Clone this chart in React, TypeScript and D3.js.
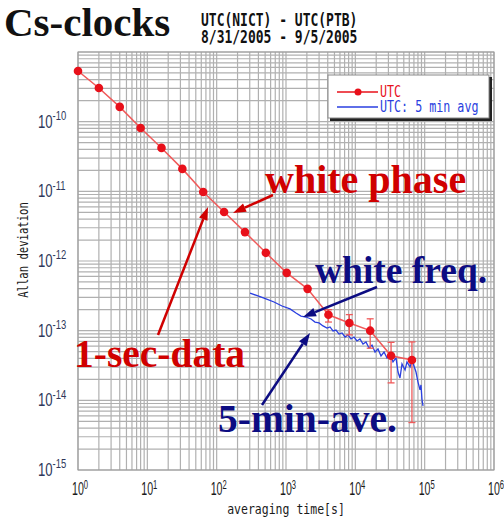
import React from "react";
import * as d3 from "d3";

// 1-sec data (red), tau in seconds
const utcTau = [1, 2, 4, 8, 16, 32, 64, 128, 256, 512, 1024, 2048, 4096, 8192, 16384, 32768, 65536];
const utcSigma = [
  5.33e-10, 3.04e-10, 1.63e-10, 8.1e-11, 4.2e-11, 2.1e-11, 9.8e-12, 5.06e-12, 2.6e-12,
  1.31e-12, 6.76e-13, 3.98e-13, 1.69e-13, 1.29e-13, 1.0e-13, 4.37e-14, 3.8e-14,
];
const utcErrLo = [null, null, null, null, null, null, null, null, null, null, null, null, 1.33e-13, 8.7e-14, 5.6e-14, 1.78e-14, 4.8e-15];
const utcErrHi = [null, null, null, null, null, null, null, null, null, null, null, null, 2.0e-13, 1.7e-13, 1.48e-13, 6.8e-14, 6.9e-14];

// 5-min averaged data (blue)
const avgTau = [
  303, 394, 515, 671, 876, 1142, 1393, 1645, 1945, 2296, 2620, 2993, 3418, 3905, 4315, 4766,
  5265, 5815, 6425, 7096, 7838, 8663, 9570, 10570, 11670, 12900, 14250, 15740, 17400, 19230,
  21230, 23450, 25940, 28640, 31620, 34930, 38620, 41300, 44060, 47100, 52120, 55590, 61500,
  65770, 70150, 75000, 80170, 85700, 88500, 91600, 94700,
];
const avgSigma = [
  3.47e-13, 3.15e-13, 2.85e-13, 2.58e-13, 2.26e-13, 2.05e-13, 1.79e-13, 1.62e-13, 1.57e-13,
  1.47e-13, 1.33e-13, 1.29e-13, 1.17e-13, 1.09e-13, 1.13e-13, 9.9e-14, 1.02e-13, 8.95e-14,
  9.27e-14, 8.11e-14, 8.67e-14, 7.6e-14, 8.11e-14, 7.11e-14, 7.6e-14, 6.44e-14, 6.89e-14,
  5.65e-14, 6.22e-14, 4.94e-14, 5.46e-14, 4.34e-14, 4.94e-14, 4.06e-14, 4.64e-14, 3.55e-14,
  4.06e-14, 2.55e-14, 2.09e-14, 3.33e-14, 2.73e-14, 3.55e-14, 3.01e-14, 3.67e-14, 3.11e-14,
  2.55e-14, 1.83e-14, 1.41e-14, 1.66e-14, 1.01e-14, 8.3e-15,
];

const xExponents = [0, 1, 2, 3, 4, 5, 6];
const yExponents = [-10, -11, -12, -13, -14, -15];

const W = 504;
const H = 520;
const RED = "#e8101a";
const RED_LINE = "#f05a5a";
const BLUE = "#2a3fe0";
const NAVY = "#0c0c82";
const DARK_RED = "#d00000";
const MONO = "'DejaVu Sans Mono', monospace";
const SANS = "'Liberation Sans', Arial, sans-serif";
const SERIF = "'Liberation Serif', 'Times New Roman', serif";

const x = d3.scaleLog().domain([1, 1e6]).range([78, 494]);
const y = d3.scaleLog().domain([1e-15, 1e-9]).range([470, 52]);

const gridX: number[] = [];
for (let d = 0; d < 6; d++) for (let k = 1; k < 10; k++) gridX.push(k * Math.pow(10, d));
gridX.push(1e6);
const gridY: number[] = [];
for (let d = -15; d < -9; d++) for (let k = 1; k < 10; k++) gridY.push(k * Math.pow(10, d));
gridY.push(1e-9);

const arrows = [
  { x1: 273, y1: 195, x2: 233, y2: 213, color: DARK_RED },
  { x1: 158, y1: 335, x2: 208, y2: 207, color: DARK_RED },
  { x1: 377, y1: 287, x2: 303, y2: 317, color: NAVY },
  { x1: 262, y1: 405, x2: 310, y2: 333, color: NAVY },
];

function Arrow({ x1, y1, x2, y2, color }) {
  const a = Math.atan2(y2 - y1, x2 - x1);
  const len = 13;
  const hw = 4.5;
  const bx = x2 - len * Math.cos(a);
  const by = y2 - len * Math.sin(a);
  const px = -Math.sin(a) * hw;
  const py = Math.cos(a) * hw;
  return (
    <g>
      <line x1={x1} y1={y1} x2={bx} y2={by} stroke={color} strokeWidth={2.5} />
      <polygon points={`${x2},${y2} ${bx + px},${by + py} ${bx - px},${by - py}`} fill={color} />
    </g>
  );
}

export default function App() {
  const redLine = d3
    .line<number>()
    .x((_, i) => x(utcTau[i]))
    .y((s) => y(s));
  const blueLine = d3
    .line<number>()
    .x((_, i) => x(avgTau[i]))
    .y((s) => y(s));

  return (
    <svg width={W} height={H} style={{ position: "absolute", left: 0, top: 0, background: "#fff" }}>
      {/* title */}
      <text x={4} y={36} fontFamily={SERIF} fontWeight="bold" fontSize={41} fill="#111">
        Cs-clocks
      </text>
      <g transform="translate(201,26) scale(1,1.3)">
        <text fontFamily={MONO} fontSize={13} fill="#111" fontWeight="bold">UTC(NICT) - UTC(PTB)</text>
      </g>
      <g transform="translate(201,42.5) scale(1,1.3)">
        <text fontFamily={MONO} fontSize={13} fill="#111" fontWeight="bold">8/31/2005 - 9/5/2005</text>
      </g>

      {/* grid */}
      <g stroke="#b0b0b0" strokeWidth={1.2}>
        {gridX.map((v, i) => (
          <line key={"gx" + i} x1={x(v)} x2={x(v)} y1={y(1e-15)} y2={y(1e-9)} />
        ))}
        {gridY.map((v, i) => (
          <line key={"gy" + i} y1={y(v)} y2={y(v)} x1={x(1)} x2={x(1e6)} />
        ))}
      </g>
      <rect x={x(1)} y={y(1e-9)} width={x(1e6) - x(1)} height={y(1e-15) - y(1e-9)} fill="none" stroke="#999" />

      {/* y tick labels */}
      {yExponents.map((e) => (
        <g key={"yl" + e} transform={`translate(38,${y(Math.pow(10, e)) + 6}) scale(1.05,1.4)`}>
          <text fontFamily={SANS} fontSize={12.5} fill="#2e375a">
            10
            <tspan fontSize={9} dy={-5.5}>{String(e)}</tspan>
          </text>
        </g>
      ))}
      {/* x tick labels */}
      {xExponents.map((e) => (
        <g key={"xl" + e} transform={`translate(${x(Math.pow(10, e)) + 2},495) scale(0.85,1.4)`}>
          <text fontFamily={SANS} fontSize={12.5} fill="#1a1a1a" textAnchor="middle">
            10
            <tspan fontSize={9} dy={-4}>{String(e)}</tspan>
          </text>
        </g>
      ))}

      {/* axis titles */}
      <g transform={`translate(${(x(1) + x(1e6)) / 2},514) scale(1,1.3)`}>
        <text fontFamily={MONO} fontSize={11.5} fill="#1a1a1a" textAnchor="middle">averaging time[s]</text>
      </g>
      <g transform="translate(28,250) rotate(-90) scale(1,1.3)">
        <text fontFamily={MONO} fontSize={10.6} fill="#1a1a1a" textAnchor="middle">Allan deviation</text>
      </g>

      {/* blue 5-min average */}
      <path d={blueLine(avgSigma) || ""} fill="none" stroke={BLUE} strokeWidth={1.3} />

      {/* red 1-sec data */}
      <path d={redLine(utcSigma) || ""} fill="none" stroke={RED_LINE} strokeWidth={1.5} />
      <g stroke={RED_LINE} strokeWidth={1.3}>
        {utcTau.map((t, i) =>
          utcErrLo[i] == null ? null : (
            <g key={"eb" + i}>
              <line x1={x(t)} x2={x(t)} y1={y(utcErrLo[i] as number)} y2={y(utcErrHi[i] as number)} />
              <line x1={x(t) - 3.5} x2={x(t) + 3.5} y1={y(utcErrLo[i] as number)} y2={y(utcErrLo[i] as number)} />
              <line x1={x(t) - 3.5} x2={x(t) + 3.5} y1={y(utcErrHi[i] as number)} y2={y(utcErrHi[i] as number)} />
            </g>
          )
        )}
      </g>
      {utcTau.map((t, i) => (
        <circle key={"pt" + i} cx={x(t)} cy={y(utcSigma[i])} r={4.3} fill={RED} />
      ))}

      {/* legend */}
      <rect x={330} y={77} width={162} height={44} fill="#222" />
      <rect x={328} y={75} width={161} height={43} fill="#fff" stroke="#888" strokeWidth={1} />
      <line x1={337} x2={378} y1={92} y2={92} stroke={RED} strokeWidth={1.5} />
      <circle cx={358} cy={92} r={3.5} fill={RED} />
      <line x1={337} x2={378} y1={107} y2={107} stroke={BLUE} strokeWidth={1.5} />
      <g transform="translate(380,97) scale(1,1.3)">
        <text fontFamily={MONO} fontSize={11.7} fill={RED}>UTC</text>
      </g>
      <g transform="translate(380,112) scale(1,1.3)">
        <text fontFamily={MONO} fontSize={11.7} fill={BLUE}>UTC: 5 min avg</text>
      </g>

      {/* annotations */}
      {arrows.map((a, i) => (
        <Arrow key={"ar" + i} {...a} />
      ))}
      <text x={265} y={193} fontFamily={SERIF} fontWeight="bold" fontSize={40} fill={DARK_RED}>white phase</text>
      <text x={74} y={367} fontFamily={SERIF} fontWeight="bold" fontSize={39.5} fill={DARK_RED}>1-sec-data</text>
      <text x={315} y={283} fontFamily={SERIF} fontWeight="bold" fontSize={37.5} fill={NAVY}>white freq.</text>
      <text x={218} y={432} fontFamily={SERIF} fontWeight="bold" fontSize={39.5} fill={NAVY}>5-min-ave.</text>
    </svg>
  );
}
